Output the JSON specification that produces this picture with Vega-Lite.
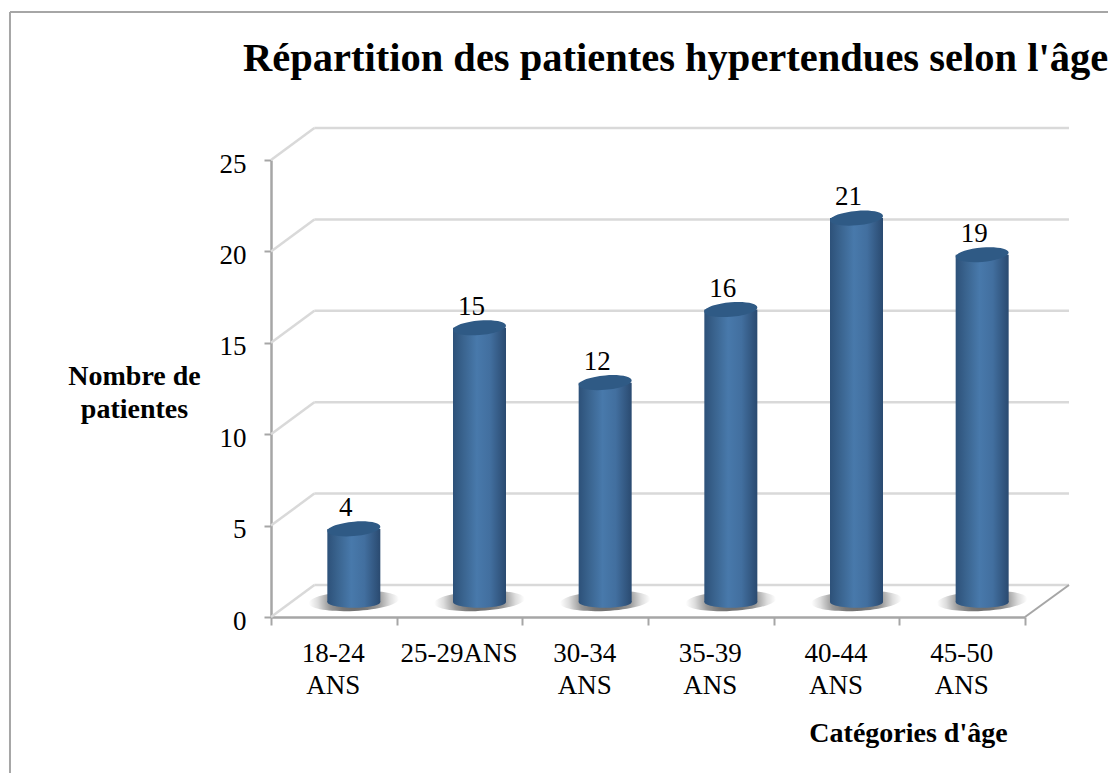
{
"$schema":"https://vega.github.io/schema/vega-lite/v6.json",
"width":754,"height":457,
"autosize":{"type":"none"},
"padding":{"left":271,"top":160,"right":83,"bottom":156},
"background":"white",
"config":{"view":{"stroke":null},"font":"Liberation Serif"},
"title":{"text":"Répartition des patientes hypertendues selon l'âge","anchor":"start","frame":"group","dx":-28,"dy":101,"offset":0,"baseline":"alphabetic","fontSize":40.5,"fontWeight":"bold","font":"Liberation Serif","color":"#000000"},
"datasets":{
"bars":[
{"categorie":"18-24 ANS","patientes":4},
{"categorie":"25-29ANS","patientes":15},
{"categorie":"30-34 ANS","patientes":12},
{"categorie":"35-39 ANS","patientes":16},
{"categorie":"40-44 ANS","patientes":21},
{"categorie":"45-50 ANS","patientes":19}],
"wall":[
{"x":0,"x2":0.345,"y":0,"y2":1.75},{"x":0.345,"x2":6.35,"y":1.75,"y2":1.75},
{"x":0,"x2":0.345,"y":5,"y2":6.75},{"x":0.345,"x2":6.35,"y":6.75,"y2":6.75},
{"x":0,"x2":0.345,"y":10,"y2":11.75},{"x":0.345,"x2":6.35,"y":11.75,"y2":11.75},
{"x":0,"x2":0.345,"y":15,"y2":16.75},{"x":0.345,"x2":6.35,"y":16.75,"y2":16.75},
{"x":0,"x2":0.345,"y":20,"y2":21.75},{"x":0.345,"x2":6.35,"y":21.75,"y2":21.75},
{"x":0,"x2":0.345,"y":25,"y2":26.75},{"x":0.345,"x2":6.35,"y":26.75,"y2":26.75}],
"edge":[
{"x":6,"x2":6.35,"y":0,"y2":1.75},
{"x":-2.077,"x2":-2.077,"y":33.1,"y2":-8.6},
{"x":-2.077,"x2":6.7,"y":33.1,"y2":33.1}]
},
"resolve":{"scale":{"x":"independent"},"axis":{"y":"independent"}},
"layer":[
{"data":{"name":"wall"},
 "mark":{"type":"rule","color":"#d9d9d9","strokeWidth":2.5},
 "encoding":{"x":{"field":"x","type":"quantitative","scale":{"domain":[0,6],"nice":false,"zero":false},"axis":null},"x2":{"field":"x2"},
 "y":{"field":"y","type":"quantitative","scale":{"domain":[0,25],"nice":false},"axis":null},"y2":{"field":"y2"}}},
{"data":{"name":"edge"},
 "mark":{"type":"rule","color":"#a6a6a6","strokeWidth":2},
 "encoding":{"x":{"field":"x","type":"quantitative","scale":{"domain":[0,6],"nice":false,"zero":false},"axis":null},"x2":{"field":"x2"},
 "y":{"field":"y","type":"quantitative","axis":null},"y2":{"field":"y2"}}},
{"data":{"name":"bars"},
 "mark":{"type":"point","shape":"M-1,0.03A1,0.22,-3,1,1,1,-0.03A1,0.22,-3,1,1,-1,0.03Z","filled":true,"size":8100,"opacity":1,"strokeWidth":0,"xOffset":20,"yOffset":-16,
  "fill":{"gradient":"radial","x1":0.5,"y1":0.5,"x2":0.5,"y2":0.5,"r1":0,"r2":0.5,"stops":[{"offset":0,"color":"#666666"},{"offset":0.3,"color":"#777777"},{"offset":0.55,"color":"#999999"},{"offset":0.8,"color":"#dddddd"},{"offset":1,"color":"#ffffff"}]}},
 "encoding":{"x":{"field":"categorie","type":"nominal","sort":null,"scale":{"paddingInner":0,"paddingOuter":0},"axis":null},"y":{"datum":0,"type":"quantitative","axis":null}}},
{"data":{"name":"bars"},
 "mark":{"type":"bar","width":53,"xOffset":20,"yOffset":-15,
  "fill":{"gradient":"linear","x1":0,"y1":0,"x2":1,"y2":0,"stops":[{"offset":0,"color":"#2d5179"},{"offset":0.2,"color":"#3a648f"},{"offset":0.45,"color":"#4879ab"},{"offset":0.7,"color":"#426f9f"},{"offset":1,"color":"#2a4a70"}]}},
 "encoding":{"x":{"field":"categorie","type":"nominal","sort":null,"title":"Catégories d'âge",
   "scale":{"paddingInner":0,"paddingOuter":0},
   "axis":{"labelAngle":0,"labelExpr":"split(datum.label,' ')","labelFontSize":27,"labelFont":"Liberation Serif","labelColor":"#000000","labelLineHeight":32,"labelBaseline":"top","labelPadding":15,"labelLimit":300,"labelOffset":-1,"tickBand":"extent","tickColor":"#a6a6a6","tickSize":8,"tickWidth":2,"domainColor":"#a6a6a6","domainWidth":2.5,"grid":false,
   "titleFont":"Liberation Serif","titleFontSize":28,"titleFontWeight":"bold","titleColor":"#000000","titleX":637,"titleY":124,"titleAlign":"center","titleBaseline":"alphabetic"}},
  "y":{"field":"patientes","type":"quantitative","title":["Nombre de","patientes"],
   "scale":{"domain":[0,25],"nice":false},
   "axis":{"values":[0,5,10,15,20,25],"grid":false,"labelFontSize":27,"labelFont":"Liberation Serif","labelColor":"#000000","labelBaseline":"middle","labelOffset":4,"labelPadding":18,"tickColor":"#a6a6a6","tickSize":7,"tickWidth":2,"domainColor":"#a6a6a6","domainWidth":2.5,
   "titleFont":"Liberation Serif","titleFontSize":28,"titleFontWeight":"bold","titleColor":"#000000","titleAngle":0,"titleX":-137,"titleY":224,"titleAlign":"center","titleBaseline":"alphabetic","titleLineHeight":33}}}},
{"data":{"name":"bars"},
 "mark":{"type":"point","shape":"M-1,0A1,0.22,0,1,0,1,0A1,0.22,0,1,0,-1,0Z","filled":true,"size":2809,"opacity":1,"strokeWidth":0,"xOffset":20,"yOffset":-15,
  "fill":{"gradient":"linear","x1":0,"y1":0,"x2":1,"y2":0,"stops":[{"offset":0,"color":"#2d5179"},{"offset":0.2,"color":"#3a648f"},{"offset":0.45,"color":"#4879ab"},{"offset":0.7,"color":"#426f9f"},{"offset":1,"color":"#2a4a70"}]}},
 "encoding":{"x":{"field":"categorie","type":"nominal","sort":null,"scale":{"paddingInner":0,"paddingOuter":0},"axis":null},"y":{"datum":0,"type":"quantitative","axis":null}}},
{"data":{"name":"bars"},
 "mark":{"type":"point","shape":"M-1,0.08A1,0.27,-5,1,1,1,-0.08A1,0.27,-5,1,1,-1,0.08Z","filled":true,"size":2809,"opacity":1,"strokeWidth":0,"xOffset":20,"yOffset":-15,"fill":"#2f5a85"},
 "encoding":{"x":{"field":"categorie","type":"nominal","sort":null,"scale":{"paddingInner":0,"paddingOuter":0},"axis":null},"y":{"field":"patientes","type":"quantitative","axis":null}}},
{"data":{"name":"bars"},
 "mark":{"type":"text","font":"Liberation Serif","fontSize":27,"color":"#000000","baseline":"alphabetic","align":"center","xOffset":12,"yOffset":-28},
 "encoding":{"x":{"field":"categorie","type":"nominal","sort":null,"scale":{"paddingInner":0,"paddingOuter":0},"axis":null},"y":{"field":"patientes","type":"quantitative","axis":null},"text":{"field":"patientes","type":"quantitative"}}}
]
}
